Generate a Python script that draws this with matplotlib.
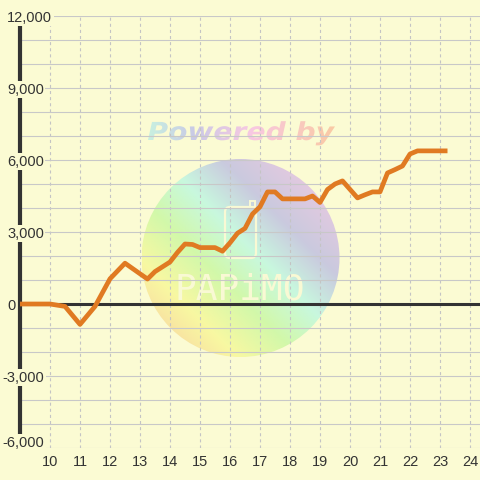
import numpy as np
import matplotlib
matplotlib.use('Agg')
import matplotlib.pyplot as plt
import matplotlib.transforms as mtransforms
from matplotlib.patches import Circle, PathPatch, FancyBboxPatch, Rectangle
from matplotlib.textpath import TextPath
from matplotlib.font_manager import FontProperties
from matplotlib.path import Path

# ---- data ----
hours = [9.0, 10.0, 10.5, 11.0, 11.5, 12.0, 12.5, 13.25, 13.5, 13.75, 14.0,
         14.25, 14.5, 14.75, 15.0, 15.5, 15.75, 16.0, 16.25, 16.5, 16.75,
         17.0, 17.25, 17.5, 17.75, 18.5, 18.75, 19.0, 19.25, 19.5, 19.75,
         20.25, 20.5, 20.75, 21.0, 21.25, 21.5, 21.75, 22.0, 22.25, 23.25]
balance = [0, 0, -100, -850, -100, 1050, 1700, 1040, 1350, 1550, 1750,
           2150, 2500, 2480, 2350, 2350, 2200, 2550, 2950, 3150, 3750,
           4050, 4670, 4670, 4380, 4380, 4500, 4230, 4770, 5000, 5130,
           4420, 4550, 4670, 4670, 5460, 5600, 5750, 6250, 6380, 6380]
x_ticks = list(range(10, 25))
x_tick_labels = [str(v) for v in x_ticks]
y_grid_values = list(range(-6000, 12001, 1000))
y_label_values = [12000, 9000, 6000, 3000, 0, -3000, -6000]

# ---- style ----
BG = '#FBFBD3'
DARK = '#333333'
ORANGE = '#E07A22'
CREAM = '#F9F9D4'
FS = 10.5
W = H = 480

plt.rcParams['font.family'] = ['Liberation Sans', 'DejaVu Sans']
plt.rcParams['lines.scale_dashes'] = False

fig = plt.figure(figsize=(4.8, 4.8), dpi=100, facecolor=BG)

# ---- watermark layer (pixel coordinates, below the chart) ----
wm = fig.add_axes([0, 0, 1, 1], zorder=0)
wm.set_xlim(0, W)
wm.set_ylim(H, 0)
wm.axis('off')


def gradient(stops, n_u, n_v, mode):
    u = np.linspace(0, 1, n_u)[None, :]
    v = np.linspace(0, 1, n_v)[:, None]
    if mode == 'diag':
        t = ((1 - u) + v) / 2.0
    else:
        t = u + 0 * v
    pos = [s[0] for s in stops]
    img = np.zeros((n_v, n_u, 3))
    for c in range(3):
        img[..., c] = np.interp(t, pos, [s[1][c] / 255.0 for s in stops])
    return img


circle_stops = [(0.0, (248, 200, 226)), (0.30, (202, 202, 222)),
                (0.45, (200, 248, 222)), (0.60, (210, 248, 170)),
                (0.76, (248, 248, 162)), (1.0, (248, 200, 160))]
cx, cy, r = 240.5, 258, 99
img = gradient(circle_stops, 200, 200, 'diag')
im = wm.imshow(img, extent=(cx - r, cx + r, cy + r, cy - r), origin='upper',
               aspect='auto', interpolation='bilinear', zorder=1)
clip_c = Circle((cx, cy), r, transform=wm.transData)
im.set_clip_path(clip_c)

# "Powered by" gradient text
tp = TextPath((0, 0), "Powered by", size=100,
              prop=FontProperties(family='DejaVu Sans', weight='bold', style='italic'))
bb = tp.get_extents()
sx = 187.0 / bb.width
sy = sx * 0.88
verts = tp.vertices.copy()
verts[:, 0] = 148 + (verts[:, 0] - bb.x0) * sx
verts[:, 1] = 140 - verts[:, 1] * sy
tpath = Path(verts, tp.codes)
text_stops = [(0.0, (200, 242, 224)), (0.25, (202, 202, 230)),
              (0.55, (248, 200, 226)), (1.0, (250, 202, 162))]
timg = gradient(text_stops, 200, 10, 'h')
tim = wm.imshow(timg, extent=(146, 338, 152, 118), origin='upper',
                aspect='auto', interpolation='bilinear', zorder=2)
tim.set_clip_path(PathPatch(tpath, transform=wm.transData))

# logo outline and brand text
wm.add_patch(FancyBboxPatch((225, 207), 31, 51,
                            boxstyle='round,pad=0,rounding_size=5',
                            fill=False, ec=CREAM, lw=1.6, zorder=3))
wm.add_patch(Rectangle((250, 201), 5, 6, fill=False, ec=CREAM, lw=1.4, zorder=3))
wm.text(240, 290, 'PAPiMO', ha='center', va='center', fontsize=26,
        family='DejaVu Sans Mono', color=CREAM, zorder=3)

# ---- main chart ----
ax = fig.add_axes([20 / W, 32 / H, 460 / W, 432 / H], zorder=1)
ax.patch.set_visible(False)
ax.set_xlim(9, 9 + 460 / 30)
ax.set_ylim(-6000, 12000)

ax.set_yticks(y_grid_values)
ax.tick_params(axis='y', left=False, labelleft=False)
ax.set_xticks(x_ticks)
ax.set_xticklabels(x_tick_labels)
ax.tick_params(axis='x', length=0, pad=5, labelsize=FS, labelcolor=DARK)

ax.yaxis.grid(True, color='#C8C8C8', lw=0.8, ls='-')
ax.xaxis.grid(True, color='#C4C4C4', lw=0.8, ls=(0, (2.2, 2.2)))
ax.set_axisbelow(True)

for s in ['top', 'right', 'bottom']:
    ax.spines[s].set_visible(False)
ax.spines['left'].set_color(DARK)
ax.spines['left'].set_linewidth(3)

ax.axhline(0, color=DARK, lw=2.2, zorder=2)
ax.plot(hours, balance, color=ORANGE, lw=3.4, zorder=3,
        solid_joinstyle='round', solid_capstyle='butt')

trans = mtransforms.blended_transform_factory(fig.transFigure, ax.transData)
trans = trans + mtransforms.ScaledTranslation(0, -1.8 / 100, fig.dpi_scale_trans)
for v in y_label_values:
    xpix = 7 if v >= 0 else 2.3
    va = 'bottom' if v == min(y_label_values) else 'center'
    ax.text(xpix / W, v, f"{v:,}", transform=trans, ha='left', va=va,
            fontsize=FS, color=DARK, zorder=6,
            bbox=dict(facecolor=BG, edgecolor='none', pad=1.2))

fig.savefig('out.png', dpi=100, facecolor=BG)
